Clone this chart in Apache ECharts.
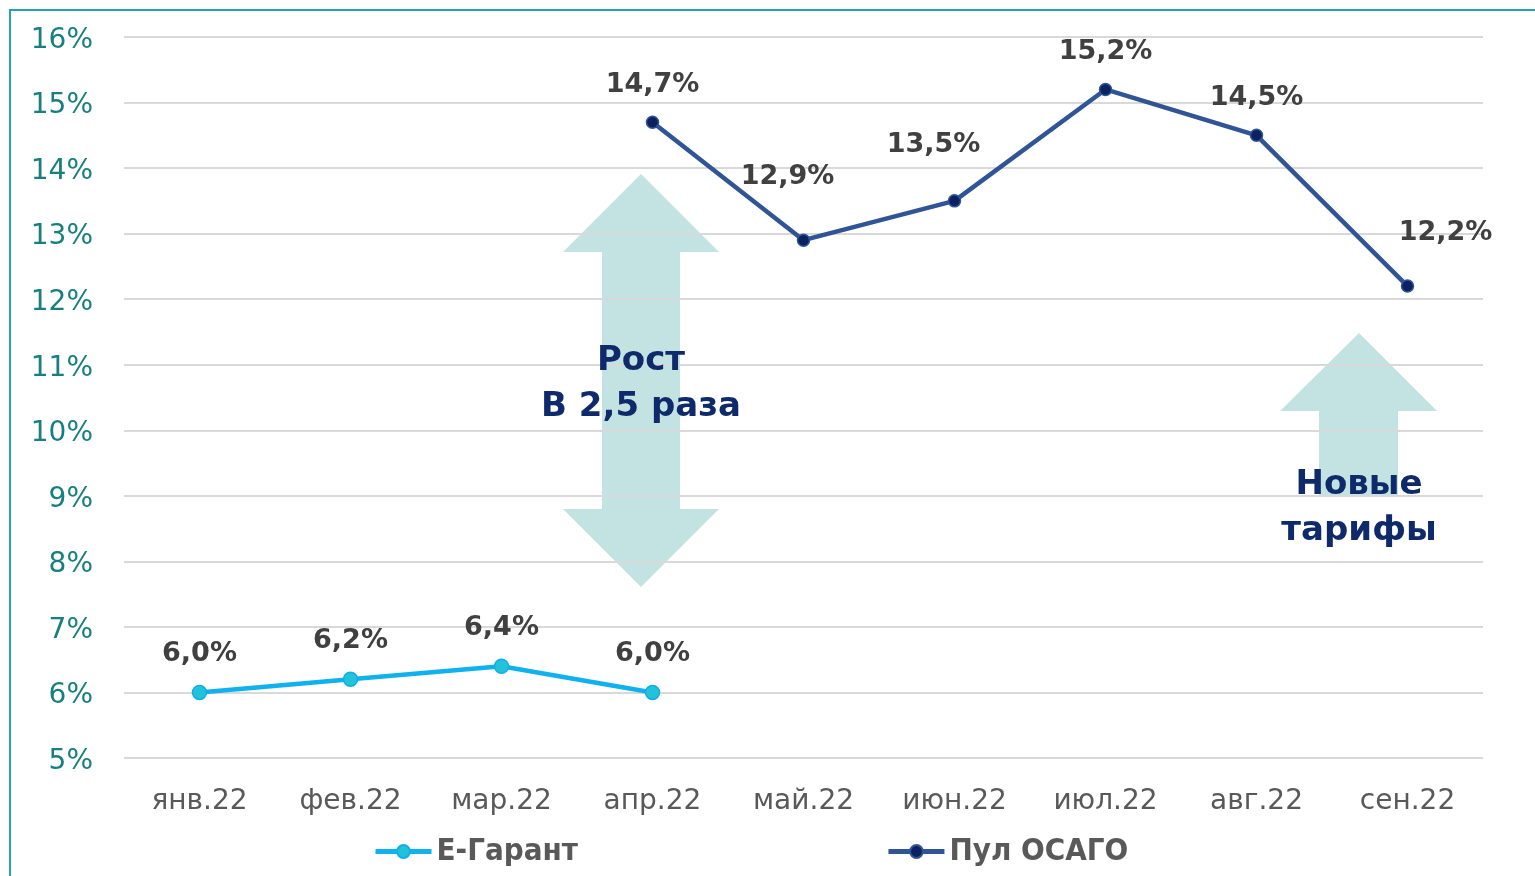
<!DOCTYPE html>
<html>
<head>
<meta charset="utf-8">
<style>
    html, body { margin: 0; padding: 0; background: #fff; }
    #chart { width: 1535px; height: 876px; }
</style>
<script src="https://cdn.jsdelivr.net/npm/echarts@6/dist/echarts.min.js"></script>
</head>
<body>
<div id="chart"></div>
<script>
var months = ['янв.22', 'фев.22', 'мар.22', 'апр.22', 'май.22', 'июн.22', 'июл.22', 'авг.22', 'сен.22'];
var eGarant = [6.0, 6.2, 6.4, 6.0, null, null, null, null, null];
var poolOsago = [null, null, null, 14.7, 12.9, 13.5, 15.2, 14.5, 12.2];
// label offsets [dx, dy] per point of the pool series
var poolLabelOffsets = [null, null, null, [0, 0], [-16, -26], [-21, -19], [0, 0], [0, 0], [38, -16]];

var FONT = 'DejaVu Sans';
var labelColor = '#404040';
var arrowColor = '#C3E3E2';
var noteColor = '#0E2A6A';

function pct(v) {
    return v.toFixed(1).replace('.', ',') + '%';
}

var poolData = poolOsago.map(function (v, i) {
    if (v == null) return null;
    var off = poolLabelOffsets[i] || [0, 0];
    return { value: v, label: { offset: off } };
});

var chart = echarts.init(document.getElementById('chart'));
chart.setOption({
    animation: false,
    backgroundColor: '#fff',
    grid: { left: 124, right: 52, top: 37, bottom: 118 },
    legend: {
        left: 368,
        bottom: 4,
        itemWidth: 56,
        itemHeight: 16,
        itemGap: 308,
        lineStyle: { width: 5 },
        textStyle: { fontFamily: 'DejaVu Sans Condensed', fontWeight: 'bold', fontSize: 31, color: '#595959' },
        data: ['Е-Гарант', 'Пул ОСАГО']
    },
    xAxis: {
        type: 'category',
        data: months,
        axisLine: { show: false },
        axisTick: { show: false },
        axisLabel: { color: '#595959', fontFamily: FONT, fontSize: 28, margin: 30 }
    },
    yAxis: {
        type: 'value',
        min: 5,
        max: 16,
        interval: 1,
        axisLine: { show: false },
        axisTick: { show: false },
        splitLine: { lineStyle: { color: '#D9D9D9', width: 2 } },
        axisLabel: {
            color: '#17807F', fontFamily: FONT, fontSize: 28, margin: 31,
            formatter: '{v|{value}%}',
            rich: { v: { fontFamily: FONT, fontSize: 28, color: '#17807F', padding: [7, 0, 0, 0] } }
        }
    },
    graphic: [
        // frame
        { type: 'polyline', shape: { points: [[10, 880], [10, 10], [1540, 10]] }, style: { stroke: '#22A5AF', lineWidth: 2, fill: null }, z: 10 },
        // double arrow
        { type: 'polygon', z: 0, shape: { points: [[641, 174], [719, 252], [680, 252], [680, 509], [719, 509], [641, 587], [563, 509], [602, 509], [602, 252], [563, 252]] }, style: { fill: arrowColor } },
        // up arrow
        { type: 'polygon', z: 0, shape: { points: [[1359, 333], [1437, 411], [1398, 411], [1398, 497], [1319, 497], [1319, 411], [1280, 411]] }, style: { fill: arrowColor } },
        { type: 'text', z: 5, style: { text: 'Рост\nВ 2,5 раза', x: 641, y: 384, align: 'center', verticalAlign: 'middle', font: 'bold 34px "DejaVu Sans"', fill: noteColor, lineHeight: 46 } },
        { type: 'text', z: 5, style: { text: 'Новые\nтарифы', x: 1359, y: 508, align: 'center', verticalAlign: 'middle', font: 'bold 34px "DejaVu Sans"', fill: noteColor, lineHeight: 46 } }
    ],
    series: [
        {
            name: 'Е-Гарант',
            type: 'line',
            data: eGarant,
            z: 3,
            symbol: 'circle',
            symbolSize: 14,
            lineStyle: { color: '#0FB2EE', width: 4.5 },
            itemStyle: { color: '#22C3D9', borderColor: '#10AEEA', borderWidth: 1.5 },
            label: {
                show: true,
                position: 'top',
                distance: 17,
                formatter: function (p) { return pct(p.value); },
                fontFamily: FONT,
                fontWeight: 'bold',
                fontSize: 27,
                color: labelColor
            }
        },
        {
            name: 'Пул ОСАГО',
            type: 'line',
            data: poolData,
            z: 3,
            symbol: 'circle',
            symbolSize: 12,
            lineStyle: { color: '#2F5597', width: 4.5 },
            itemStyle: { color: '#0B2160', borderColor: '#2F5597', borderWidth: 1.5 },
            label: {
                show: true,
                position: 'top',
                distance: 17,
                formatter: function (p) { return pct(p.value); },
                fontFamily: FONT,
                fontWeight: 'bold',
                fontSize: 27,
                color: labelColor
            }
        }
    ]
});
</script>
</body>
</html>
